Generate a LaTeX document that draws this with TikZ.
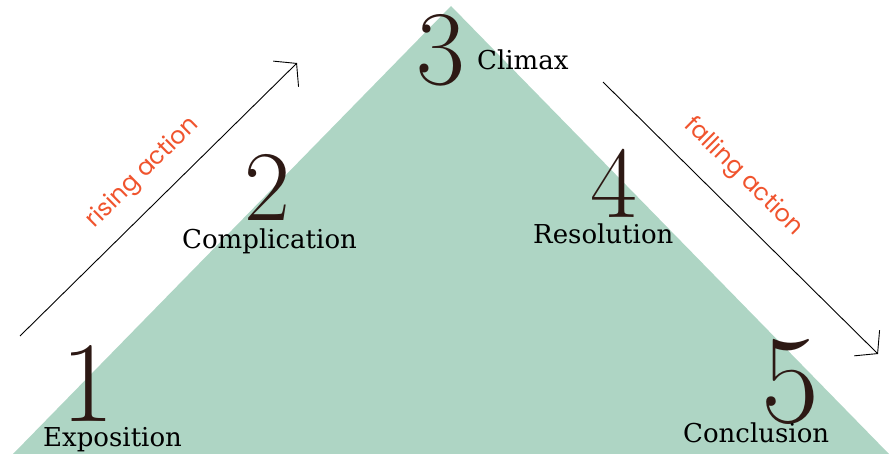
\documentclass[tikz,border=0pt]{standalone}
\usepackage{fontspec}
\usetikzlibrary{arrows.meta}
\newfontfamily\wordfont{DejaVu Serif}
\newfontfamily\actfont{Poppins}
\definecolor{mint}{RGB}{174,213,196}
\definecolor{flame}{RGB}{240,84,46}
\definecolor{ink}{RGB}{45,25,20}
\begin{document}
\begin{tikzpicture}[x=1pt,y=-1pt,
 digit/.style={inner sep=0pt,text=ink},
 word/.style={anchor=base west,inner sep=0pt,font=\wordfont\fontsize{26}{26}\selectfont},
 act/.style={inner sep=0pt,text=flame,font=\actfont\fontsize{24}{24}\selectfont},
 >={Straight Barb[length=15pt,width=36pt]}]
\useasboundingbox (0,0) rectangle (889,454);
% the pyramid
\coordinate (left) at (13,454);
\coordinate (top) at (451,6);
\coordinate (right) at (889,454);
\fill[mint] (left) -- (top) -- (right) -- cycle;
% arrows
\coordinate (rs) at (20,336); \coordinate (re) at (297,63);
\coordinate (fs) at (603,82); \coordinate (fe) at (878,354);
\draw[->, line width=0.9pt] (rs) -- (re);
\draw[->, line width=0.9pt] (fs) -- (fe);
\node[act, rotate=44.6] (rise) at (143,173) {rising action};
\node[act, rotate=-44.7] (fall) at (743,177) {falling action};
% stages
\foreach \n / \x / \y / \s in {1/88/383/115, 2/267/187/100, 3/441/50/106, 4/614/183/102, 5/790/382/126}
 \node[digit, font=\fontsize{\s}{\s}\selectfont] (d\n) at (\x,\y) {\n};
\foreach \w / \x / \y in {Exposition/43/446, Complication/182/249, Climax/477/70, Resolution/533/244, Conclusion/683/442}
 \node[word] (\w) at (\x,\y) {\w};
\end{tikzpicture}
\end{document}
